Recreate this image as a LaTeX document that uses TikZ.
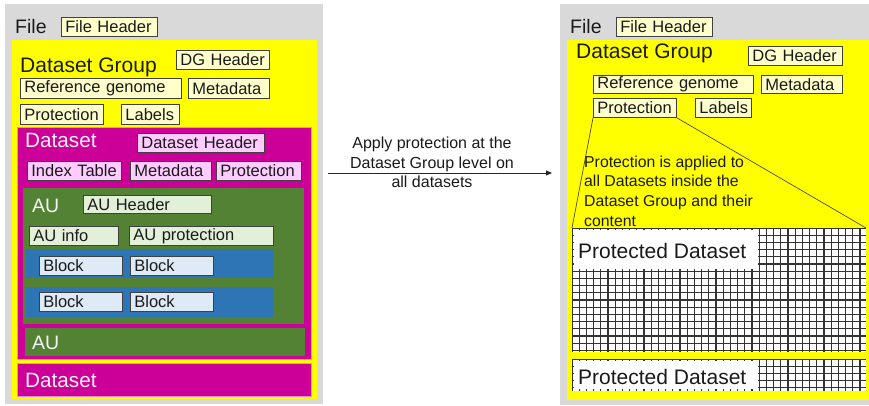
\documentclass[tikz,border=0pt]{standalone}
\usepackage{fontspec}
\setmainfont{Liberation Sans}
\usetikzlibrary{arrows.meta}
\definecolor{cgray}{HTML}{D9D9D9}
\definecolor{cyel}{HTML}{FFFF00}
\definecolor{cmag}{HTML}{CC0099}
\definecolor{cmagline}{HTML}{EE88D8}
\definecolor{cgrn}{HTML}{548235}
\definecolor{cblu}{HTML}{2E75B6}
\definecolor{fyel}{HTML}{FFFFCC}
\definecolor{fpink}{HTML}{FFCCFF}
\definecolor{fgrn}{HTML}{E2F0D9}
\definecolor{fblu}{HTML}{DEEBF7}
\definecolor{txt}{HTML}{1A1A1A}
\definecolor{wtxt}{HTML}{F4F4F4}
\newcommand\mytbox[7]{%
  \pgfmathsetmacro\mybw{#5-#3}\pgfmathsetmacro\mybh{#6-#4}\pgfmathsetmacro\mytw{#5-#3-8}%
  \node[#1, anchor=north west, minimum width=\mybw pt, minimum height=\mybh pt,
        text width=\mytw pt, align=left, inner xsep=4pt, inner ysep=0pt] (#2) at (#3,#4) {#7};}
\newcommand\myregion[6]{%
  \pgfmathsetmacro\mybw{#5-#3}\pgfmathsetmacro\mybh{#6-#4}%
  \node[#1, anchor=north west, minimum width=\mybw pt, minimum height=\mybh pt, inner sep=0pt] (#2) at (#3,#4) {};}
\tikzset{
  lab/.style={font=\fontsize{16.5}{19}\selectfont, text=txt, draw=black!75, line width=0.8pt},
  ybox/.style={lab, fill=fyel},
  pbox/.style={lab, fill=fpink},
  gbox/.style={lab, fill=fgrn},
  bbox/.style={lab, fill=fblu},
  big/.style={anchor=base west, inner sep=0pt, text=txt},
  wbig/.style={anchor=base west, inner sep=0pt, text=wtxt},
  grayreg/.style={fill=cgray},
  yelreg/.style={fill=cyel},
  magreg/.style={fill=cmag, draw=cmagline, line width=0.6pt},
  grnreg/.style={fill=cgrn},
  blureg/.style={fill=cblu},
  whitereg/.style={fill=white},
  gridln/.style={draw=black!80, line width=1.05pt},
  thinln/.style={draw=black!80!yellow, line width=0.7pt},
}
\begin{document}
\begin{tikzpicture}[x=1pt,y=-1pt]
\useasboundingbox (0,0) rectangle (869,406);
\fill[white] (0,0) rectangle (869,406);
% ---------------- left panel ----------------
\myregion{grayreg}{grayL}{5}{4}{323}{404}
\node[big, font=\fontsize{19.5}{23}\selectfont] (fileL) at (15,34) {File};
\mytbox{ybox}{fhL}{61}{17}{157}{36}{File Header}
\myregion{yelreg}{yelL}{12}{40}{317}{399}
\node[big, font=\fontsize{21}{25}\selectfont] (dgL) at (20,73) {Dataset Group};
\mytbox{ybox}{dghL}{176}{50}{269}{69}{DG Header}
\mytbox{ybox}{refL}{20}{78}{181}{98}{Reference genome}
\mytbox{ybox}{metaL}{188}{78}{269}{98}{Metadata}
\mytbox{ybox}{protL}{20}{104}{103}{124}{Protection}
\mytbox{ybox}{labL}{121}{104}{179}{124}{Labels}
\myregion{magreg}{ds1}{17}{127}{311}{359}
\node[wbig, font=\fontsize{20.7}{24}\selectfont] (ds1t) at (25,148) {Dataset};
\mytbox{pbox}{dsh}{137}{133}{264}{152}{Dataset Header}
\mytbox{pbox}{idx}{27}{161}{121}{180}{Index Table}
\mytbox{pbox}{dsmeta}{130}{161}{211}{180}{Metadata}
\mytbox{pbox}{dsprot}{216}{161}{301}{180}{Protection}
\myregion{grnreg}{au1}{23}{188}{304}{324}
\node[wbig, font=\fontsize{19.5}{23}\selectfont] (au1t) at (32,212) {AU};
\mytbox{gbox}{auh}{83}{195}{211}{213}{AU Header}
\mytbox{gbox}{auinfo}{29}{226}{118}{245}{AU info}
\mytbox{gbox}{auprot}{129}{226}{273}{245}{AU protection}
\myregion{blureg}{blu1}{26}{249}{273}{278}
\mytbox{bbox}{b11}{39}{256}{122}{275}{Block}
\mytbox{bbox}{b12}{130}{256}{213}{275}{Block}
\myregion{blureg}{blu2}{26}{287}{273}{317}
\mytbox{bbox}{b21}{39}{292}{122}{311}{Block}
\mytbox{bbox}{b22}{130}{292}{213}{311}{Block}
\myregion{grnreg}{au2}{25}{328}{305}{356}
\node[wbig, font=\fontsize{19.5}{23}\selectfont] (au2t) at (32,349) {AU};
\myregion{magreg}{ds2}{17}{363}{311}{396}
\node[wbig, font=\fontsize{20.7}{24}\selectfont] (ds2t) at (25,387) {Dataset};
% ---------------- arrow ----------------
\coordinate (arrS) at (328,173);
\coordinate (arrE) at (552,173);
\draw[line width=0.8pt, black!85, -{Triangle[length=6pt,width=5pt]}] (arrS) -- (arrE);
\node[anchor=north, inner sep=0pt, align=center, text=txt,
      font=\fontsize{16}{19.5}\selectfont] (arrtxt) at (432,137)
      {Apply protection at the\\Dataset Group level on\\all datasets};
% ---------------- right panel ----------------
\myregion{grayreg}{grayR}{560}{4}{869}{405}
\node[big, font=\fontsize{19.5}{23}\selectfont] (fileR) at (570,34) {File};
\mytbox{ybox}{fhR}{616}{17}{712}{36}{File Header}
\myregion{yelreg}{yelR}{567}{40}{869}{400}
\node[big, font=\fontsize{21}{25}\selectfont] (dgR) at (576,59) {Dataset Group};
\mytbox{ybox}{dghR}{748}{46}{842}{65}{DG Header}
\mytbox{ybox}{refR}{593}{75}{753}{93}{Reference genome}
\mytbox{ybox}{metaR}{761}{75}{842}{93}{Metadata}
\mytbox{ybox}{protR}{593}{98}{676}{117}{Protection}
\mytbox{ybox}{labR}{695}{98}{751}{117}{Labels}
\coordinate (gtl) at (572,228);
\coordinate (gtr) at (866,228);
\draw[thinln] (protR.south west) -- (gtl);
\draw[thinln] (protR.south east) -- (gtr);
\node[anchor=north west, inner sep=0pt, align=left, text=txt,
      font=\fontsize{15.8}{19.8}\selectfont] (note) at (584,155.5)
      {Protection is applied to\\all Datasets inside the\\Dataset Group and their\\content};
% grid 1
\myregion{whitereg}{grid1}{572}{228}{866}{352}
\begin{scope}
  \clip (572,228) rectangle (866,352);
  \foreach \i in {0,...,41} \draw[gridln] (572+7.2*\i,228) -- (572+7.2*\i,352);
  \foreach \j in {0,...,17} \draw[gridln] (572,228+7.2*\j) -- (866,228+7.2*\j);
\end{scope}
\myregion{whitereg}{pd1}{574}{230}{757.5}{269}
\node[big, font=\fontsize{21}{25}\selectfont] (pd1t) at (578,258) {Protected Dataset};
% grid 2
\myregion{whitereg}{grid2}{572}{359}{866}{391}
\begin{scope}
  \clip (572,359) rectangle (866,391);
  \foreach \i in {0,...,41} \draw[gridln] (572+7.2*\i,359) -- (572+7.2*\i,391);
  \foreach \j in {0,...,4} \draw[gridln] (572,359+7.2*\j) -- (866,359+7.2*\j);
\end{scope}
\myregion{whitereg}{pd2}{574}{361}{757.5}{389}
\node[big, font=\fontsize{21}{25}\selectfont] (pd2t) at (578,384) {Protected Dataset};
\end{tikzpicture}
\end{document}
